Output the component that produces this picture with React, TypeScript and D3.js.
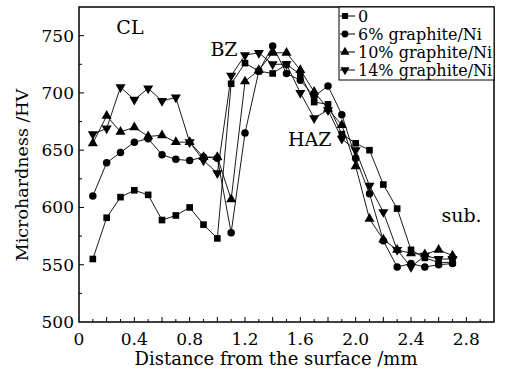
import React, { useEffect, useRef } from 'react';
import * as d3 from 'd3';

const distances = [0.1, 0.2, 0.3, 0.4, 0.5, 0.6, 0.7, 0.8, 0.9, 1.0, 1.1, 1.2, 1.3, 1.4, 1.5, 1.6, 1.7, 1.8, 1.9, 2.0, 2.1, 2.2, 2.3, 2.4, 2.5, 2.6, 2.7];

const hv0 = [555, 591, 609, 615, 611, 589, 593, 600, 585, 573, 708, 726, 719, 717, 725, 716, 692, 690, 664, 656, 650, 620, 599, 563, 556, 552, 552];
const hv6 = [610, 639, 648, 657, 660, 646, 642, 641, 644, 643, 578, 665, 719, 741, 717, 711, 697, 706, 681, 643, 612, 571, 548, 551, 548, 550, 551];
const hv10 = [656, 680, 666, 670, 662, 663, 657, 657, 644, 644, 607, 710, 720, 735, 735, 720, 701, 686, 672, 636, 590, 572, 563, 560, 559, 563, 558];
const hv14 = [664, 669, 705, 694, 704, 693, 696, 657, 641, 630, 715, 733, 735, 725, 725, 700, 678, 685, 660, 650, 619, 596, 563, 548, 558, 555, 555];

const seriesNames = ['0', '6% graphite/Ni', '10% graphite/Ni', '14% graphite/Ni'];
const xTickLabels = [0, 0.4, 0.8, 1.2, 1.6, 2.0, 2.4, 2.8];
const yTickLabels = [500, 550, 600, 650, 700, 750];

const regionLabels = [
  { text: 'CL', x: 0.27, y: 751 },
  { text: 'BZ', x: 0.95, y: 732 },
  { text: 'HAZ', x: 1.51, y: 654 },
  { text: 'sub.', x: 2.62, y: 587 },
];

const App = () => {
  const ref = useRef<SVGSVGElement>(null);

  useEffect(() => {
    const width = 506;
    const height = 372;
    const margin = { top: 7, right: 12, bottom: 50, left: 79 };
    const font = '"DejaVu Serif", serif';

    const svg = d3.select(ref.current);
    svg.selectAll('*').remove();
    svg.attr('width', width).attr('height', height);

    const x = d3.scaleLinear().domain([0, 3.0]).range([margin.left, width - margin.right]);
    const y = d3.scaleLinear().domain([500, 775]).range([height - margin.bottom, margin.top]);

    const g = svg.append('g');

    // frame
    g.append('rect')
      .attr('x', x(0))
      .attr('y', y(775))
      .attr('width', x(3.0) - x(0))
      .attr('height', y(500) - y(775))
      .attr('fill', 'none')
      .attr('stroke', '#000')
      .attr('stroke-width', 1.5);

    // x ticks, pointing inward
    d3.range(1, 30).forEach((i) => {
      const v = i / 10;
      const len = i % 2 === 0 ? 5 : 3;
      g.append('line')
        .attr('x1', x(v)).attr('x2', x(v))
        .attr('y1', y(500)).attr('y2', y(500) - len)
        .attr('stroke', '#000');
    });
    xTickLabels.forEach((v) => {
      g.append('text')
        .attr('x', x(v))
        .attr('y', y(500) + 23)
        .attr('text-anchor', 'middle')
        .attr('font-family', font)
        .attr('font-size', 17)
        .text(v === 0 ? '0' : v.toFixed(1));
    });

    // y ticks
    d3.range(525, 775, 25).forEach((v) => {
      const len = v % 50 === 0 ? 5 : 3;
      g.append('line')
        .attr('x1', x(0)).attr('x2', x(0) + len)
        .attr('y1', y(v)).attr('y2', y(v))
        .attr('stroke', '#000');
    });
    yTickLabels.forEach((v) => {
      g.append('text')
        .attr('x', x(0) - 5)
        .attr('y', y(v) + 6)
        .attr('text-anchor', 'end')
        .attr('font-family', font)
        .attr('font-size', 17)
        .text(v);
    });

    g.append('text')
      .attr('x', 276)
      .attr('y', 365)
      .attr('text-anchor', 'middle')
      .attr('font-family', font)
      .attr('font-size', 18)
      .text('Distance from the surface /mm');

    g.append('text')
      .attr('transform', `translate(28,175) rotate(-90)`)
      .attr('text-anchor', 'middle')
      .attr('font-family', font)
      .attr('font-size', 17.5)
      .text('Microhardness /HV');

    const all = [hv0, hv6, hv10, hv14];
    const symbols = [
      { type: d3.symbolSquare, size: 44, rot: 0 },
      { type: d3.symbolCircle, size: 44, rot: 0 },
      { type: d3.symbolTriangle, size: 44, rot: 0 },
      { type: d3.symbolTriangle, size: 44, rot: 180 },
    ];

    const line = d3.line<number>()
      .x((d, i) => x(distances[i]))
      .y((d) => y(d));

    all.forEach((vals) => {
      g.append('path')
        .attr('d', line(vals))
        .attr('fill', 'none')
        .attr('stroke', '#000')
        .attr('stroke-width', 0.9);
    });

    all.forEach((vals, s) => {
      const sym = symbols[s];
      g.selectAll(null)
        .data(vals)
        .enter()
        .append('path')
        .attr('d', d3.symbol().type(sym.type).size(sym.size)())
        .attr('transform', (d, i) => `translate(${x(distances[i])},${y(d)}) rotate(${sym.rot})`)
        .attr('fill', '#000');
    });

    regionLabels.forEach((r) => {
      g.append('text')
        .attr('x', x(r.x))
        .attr('y', y(r.y))
        .attr('font-family', font)
        .attr('font-size', 19)
        .text(r.text);
    });

    // legend
    const lx = 339;
    const ly = 7;
    g.append('rect')
      .attr('x', lx)
      .attr('y', ly)
      .attr('width', 494 - lx)
      .attr('height', 73)
      .attr('fill', '#fff')
      .attr('stroke', '#000')
      .attr('stroke-width', 1);
    seriesNames.forEach((name, i) => {
      const cy = ly + 9 + i * 18;
      g.append('line')
        .attr('x1', lx + 1).attr('x2', lx + 16)
        .attr('y1', cy).attr('y2', cy)
        .attr('stroke', '#000');
      g.append('path')
        .attr('d', d3.symbol().type(symbols[i].type).size(36)())
        .attr('transform', `translate(${lx + 6},${cy}) rotate(${symbols[i].rot})`)
        .attr('fill', '#000');
      g.append('text')
        .attr('x', lx + 19)
        .attr('y', cy + 6)
        .attr('font-family', font)
        .attr('font-size', 16)
        .text(name);
    });
  }, []);

  return (
    <div style={{ position: 'absolute', left: 0, top: 0 }}>
      <svg ref={ref}></svg>
    </div>
  );
};

export default App;
